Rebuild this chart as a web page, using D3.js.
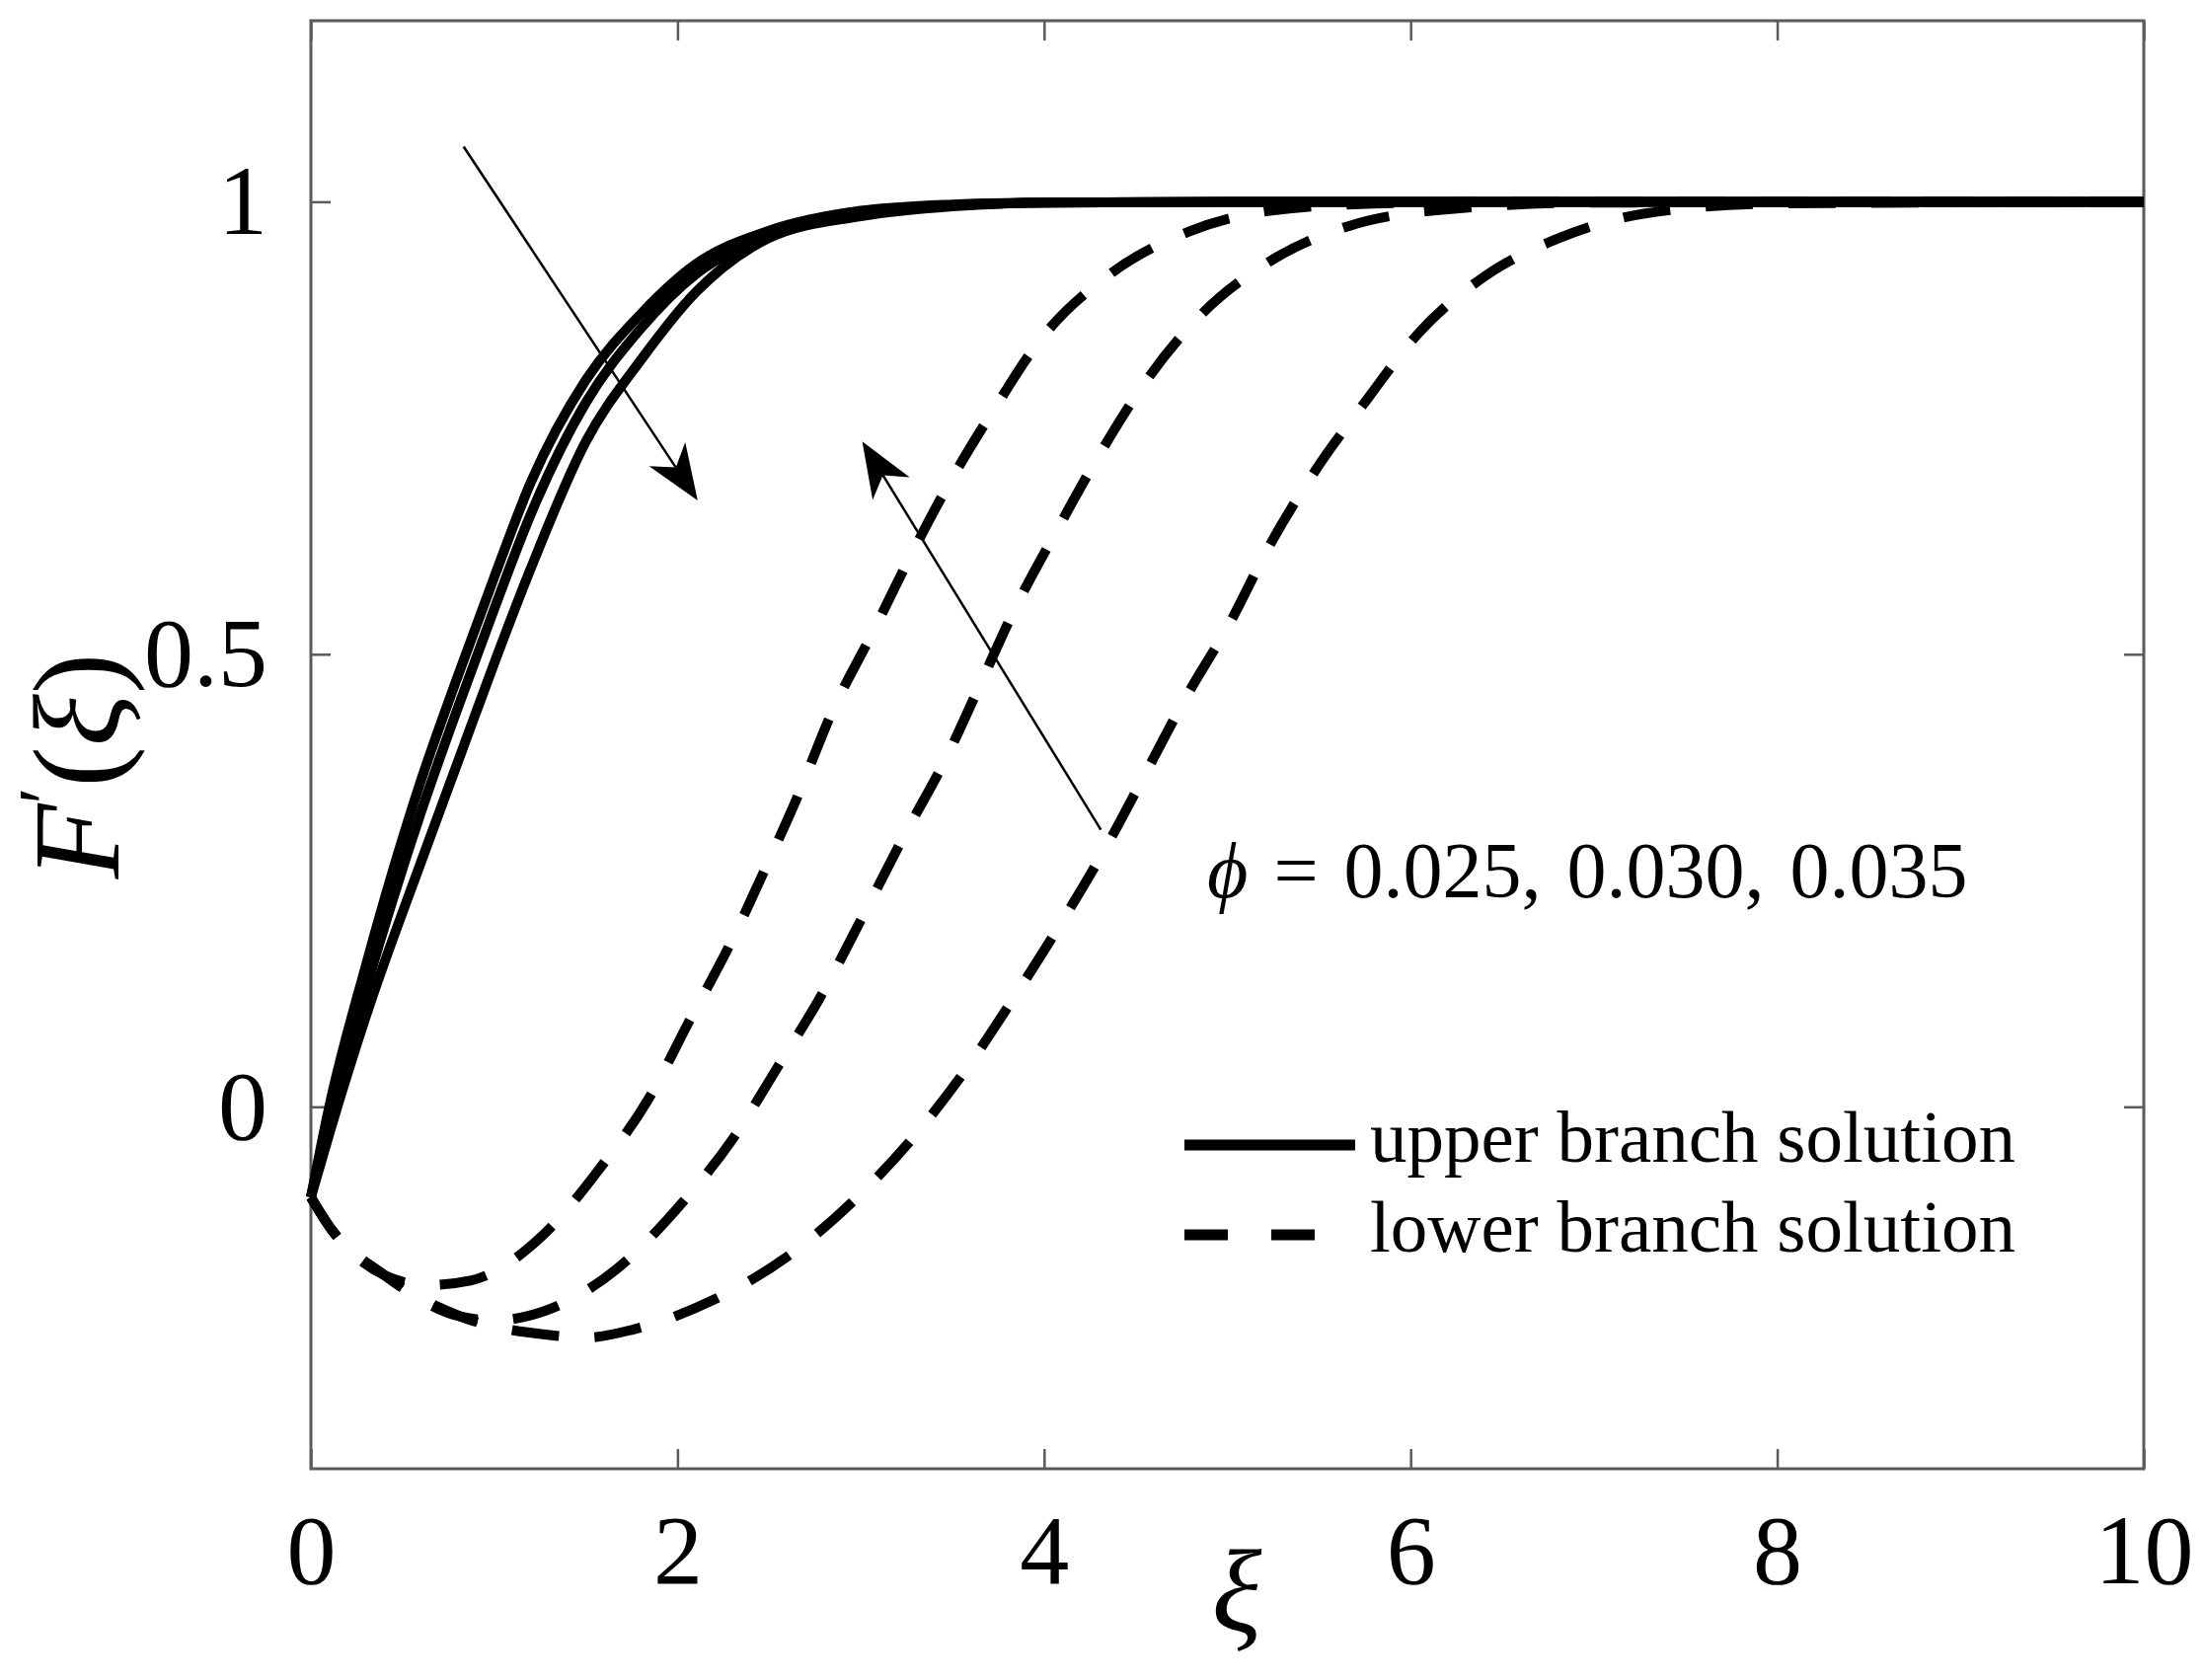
<!DOCTYPE html>
<html>
<head>
<meta charset="utf-8">
<script src="https://cdn.jsdelivr.net/npm/d3@7"></script>
<style>
  html, body { margin: 0; padding: 0; background: #fff; }
  svg text { font-family: "Liberation Serif", "DejaVu Serif", serif; fill: #000; }
</style>
</head>
<body>
<div id="chart"></div>
<script>
// ---- data ----
const xTicks = [0, 2, 4, 6, 8, 10];
const yTicks = [0, 0.5, 1];
const yTickLabels = ['0', '0.5', '1'];

// upper branch (solid), three phi values
const upperXi = [0, 0.1, 0.3, 0.6, 0.8, 1.0, 1.2, 1.5, 1.8, 2.1, 2.5, 3.0, 3.5, 4.0, 5.0, 10];
const upper025 = [-0.1, 0.0, 0.156, 0.36, 0.475, 0.585, 0.69, 0.803, 0.876, 0.931, 0.968, 0.99, 0.997, 0.999, 1.0, 1.0];
const upper030 = [-0.1, -0.015, 0.13, 0.325, 0.44, 0.55, 0.655, 0.778, 0.86, 0.92, 0.962, 0.987, 0.996, 0.999, 1.0, 1.0];
const upper035 = [-0.1, -0.03, 0.10, 0.27, 0.38, 0.49, 0.595, 0.735, 0.825, 0.90, 0.96, 0.984, 0.995, 0.999, 1.0, 1.0];

// lower branch (dashed)
const lowerXi1 = [0, 0.11, 0.4, 0.63, 0.87, 1.27, 1.58, 1.84, 2.06, 2.29, 2.49, 2.66, 2.83, 3.08, 3.25, 3.5, 3.75, 3.97, 4.36, 4.79, 5.23, 5.8, 6.5, 10];
const lower1 = [-0.1, -0.135, -0.186, -0.197, -0.192, -0.141, -0.067, 0.008, 0.093, 0.181, 0.268, 0.345, 0.43, 0.53, 0.60, 0.695, 0.778, 0.845, 0.92, 0.967, 0.99, 0.998, 1.0, 1.0];

const lowerXi2 = [0, 0.11, 0.4, 0.82, 1.0, 1.27, 1.67, 2.0, 2.3, 2.55, 2.79, 3.01, 3.23, 3.47, 3.63, 3.85, 4.07, 4.3, 4.55, 4.86, 5.23, 5.66, 6.11, 7.0, 10];
const lower2 = [-0.1, -0.135, -0.186, -0.232, -0.236, -0.226, -0.179, -0.112, -0.036, 0.045, 0.125, 0.21, 0.297, 0.387, 0.457, 0.554, 0.637, 0.72, 0.80, 0.876, 0.934, 0.973, 0.99, 0.999, 1.0];

const lowerXi3 = [0, 0.11, 0.4, 0.82, 1.29, 1.5, 1.76, 2.2, 2.61, 2.96, 3.29, 3.58, 3.84, 4.09, 4.33, 4.55, 4.77, 5.02, 5.23, 5.48, 5.76, 6.04, 6.4, 6.8, 7.28, 8.0, 10];
const lower3 = [-0.1, -0.135, -0.186, -0.232, -0.252, -0.255, -0.246, -0.213, -0.164, -0.104, -0.033, 0.043, 0.122, 0.202, 0.284, 0.367, 0.451, 0.537, 0.62, 0.703, 0.781, 0.854, 0.917, 0.959, 0.987, 0.998, 1.0];

// annotation arrows [xi, value] : tail -> tip
const arrowUpper = [[0.833, 1.061], [2.11, 0.670]];
const arrowLower = [[4.31, 0.306], [3.008, 0.735]];

const W = 2233, H = 1702;
const margin = { top: 21, right: 61, bottom: 214, left: 315 };
const innerW = W - margin.left - margin.right;
const innerH = H - margin.top - margin.bottom;

const svg = d3.select('#chart').append('svg')
    .attr('width', W)
    .attr('height', H)
    .attr('viewBox', [0, 0, W, H]);

svg.append('rect').attr('width', W).attr('height', H).attr('fill', '#fff');

const g = svg.append('g').attr('transform', `translate(${margin.left},${margin.top})`);

const x = d3.scaleLinear().domain([0, 10]).range([0, innerW]);
const y = d3.scaleLinear().domain([-0.4, 1.2]).range([innerH, 0]);

const axisColor = '#5a5a5a';
const tickLen = 20;

// Axes (ticks inside, box style)
const xAxis = g.append('g')
    .attr('transform', `translate(0,${innerH})`)
    .call(d3.axisBottom(x).tickValues(xTicks).tickSizeInner(-tickLen).tickSizeOuter(0).tickPadding(50));
const xTop = g.append('g')
    .call(d3.axisTop(x).tickValues(xTicks).tickSizeInner(-tickLen).tickSizeOuter(0).tickFormat(''));
const yAxis = g.append('g')
    .call(d3.axisLeft(y).tickValues(yTicks).tickSizeInner(-tickLen).tickSizeOuter(0).tickPadding(44)
        .tickFormat((d, i) => yTickLabels[i]));
const yRight = g.append('g')
    .attr('transform', `translate(${innerW},0)`)
    .call(d3.axisRight(y).tickValues(yTicks).tickSizeInner(-tickLen).tickSizeOuter(0).tickFormat(''));

[xAxis, xTop, yAxis, yRight].forEach(a => {
    a.select('.domain').remove();
    a.selectAll('line').attr('stroke', axisColor).attr('stroke-width', 2.5);
    a.selectAll('text')
        .attr('font-family', '"Liberation Serif", serif')
        .attr('font-size', 100)
        .attr('fill', '#000');
});
xAxis.selectAll('text').attr('dy', '0.66em');

g.append('rect')
    .attr('width', innerW)
    .attr('height', innerH)
    .attr('fill', 'none')
    .attr('stroke', axisColor)
    .attr('stroke-width', 3);

// Curves
const line = d3.line()
    .x(d => x(d[0]))
    .y(d => y(d[1]))
    .curve(d3.curveMonotoneX);

const upperSeries = [upper025, upper030, upper035].map(vals => upperXi.map((xi, i) => [xi, vals[i]]));
const lowerSeries = [[lowerXi1, lower1], [lowerXi2, lower2], [lowerXi3, lower3]]
    .map(([xs, vals]) => xs.map((xi, i) => [xi, vals[i]]));

g.append('g')
    .selectAll('path')
    .data(upperSeries)
    .join('path')
    .attr('fill', 'none')
    .attr('stroke', '#000')
    .attr('stroke-width', 10)
    .attr('d', line);

g.append('g')
    .selectAll('path')
    .data(lowerSeries)
    .join('path')
    .attr('fill', 'none')
    .attr('stroke', '#000')
    .attr('stroke-width', 10)
    .attr('stroke-dasharray', '48,36')
    .attr('d', line);

// Arrows
function drawArrow(pts) {
    const [x0, y0] = [x(pts[0][0]), y(pts[0][1])];
    const [x1, y1] = [x(pts[1][0]), y(pts[1][1])];
    const len = Math.hypot(x1 - x0, y1 - y0);
    const ux = (x1 - x0) / len, uy = (y1 - y0) / len;
    const nx = -uy, ny = ux;
    const L = 56, w = 22, notch = 16;
    const bx = x1 - (L - notch) * ux, by = y1 - (L - notch) * uy;
    g.append('line')
        .attr('x1', x0).attr('y1', y0)
        .attr('x2', bx).attr('y2', by)
        .attr('stroke', '#000')
        .attr('stroke-width', 2.5);
    g.append('path')
        .attr('d', `M${x1},${y1}L${x1 - L * ux + w * nx},${y1 - L * uy + w * ny}L${bx},${by}L${x1 - L * ux - w * nx},${y1 - L * uy - w * ny}Z`)
        .attr('fill', '#000');
}
drawArrow(arrowUpper);
drawArrow(arrowLower);

// phi annotation
const phiText = g.append('text')
    .attr('x', x(4.89))
    .attr('y', y(0.232))
    .attr('font-size', 80)
    .attr('word-spacing', 6);
phiText.append('tspan').attr('font-style', 'italic').text('\u03D5');
phiText.append('tspan').text(' = 0.025, 0.030, 0.035');

// Legend
const legX0 = 1200 - margin.left, legX1 = 1373 - margin.left;
const legTextX = 1388 - margin.left;
g.append('line')
    .attr('x1', legX0).attr('x2', legX1)
    .attr('y1', 1160 - margin.top).attr('y2', 1160 - margin.top)
    .attr('stroke', '#000').attr('stroke-width', 11);
g.append('text')
    .attr('x', legTextX).attr('y', 1177 - margin.top)
    .attr('font-size', 75)
    .text('upper branch solution');
g.append('line')
    .attr('x1', legX0).attr('x2', legX0 + 132)
    .attr('y1', 1251 - margin.top).attr('y2', 1251 - margin.top)
    .attr('stroke', '#000').attr('stroke-width', 11)
    .attr('stroke-dasharray', '44,44');
g.append('text')
    .attr('x', legTextX).attr('y', 1268 - margin.top)
    .attr('font-size', 75)
    .text('lower branch solution');

// Axis labels
svg.append('text')
    .attr('x', 1253)
    .attr('y', 1652)
    .attr('text-anchor', 'middle')
    .attr('font-size', 118)
    .attr('font-style', 'italic')
    .text('\u03BE');

const yLab = svg.append('text')
    .attr('transform', 'translate(120,776) rotate(-90)')
    .attr('text-anchor', 'middle')
    .attr('font-size', 124);
yLab.append('tspan').attr('font-style', 'italic').text('F');
yLab.append('tspan').attr('font-size', 78).attr('dy', -48).text('\u2032');
yLab.append('tspan').attr('dy', 48).text('(');
yLab.append('tspan').attr('font-style', 'italic').text('\u03BE');
yLab.append('tspan').text(')');
</script>
</body>
</html>
